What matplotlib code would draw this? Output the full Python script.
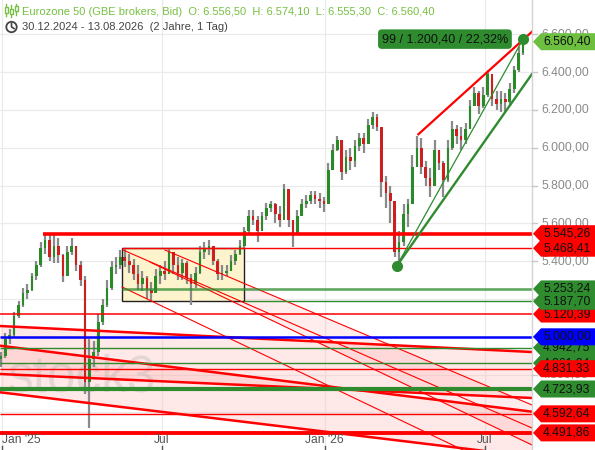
import matplotlib
matplotlib.use("Agg")
import matplotlib.pyplot as plt
import matplotlib.transforms as mtransforms
from matplotlib.patches import Polygon, Rectangle, Circle

plt.rcParams['font.family'] = ['Liberation Sans', 'DejaVu Sans']

# ---------------- data ----------------
# candle positions: days since 30.12.2024
days = list(range(1, 592, 5))
first_open = 4880
closes = [4900, 4990, 5010, 5110, 5170, 5230, 5250, 5320, 5380, 5470,
          5510, 5420, 5480, 5430, 5320, 5450, 5480, 5380, 5300, 4760,
          4880, 4920, 5080, 5170, 5260, 5370, 5380, 5420, 5400, 5380,
          5330, 5280, 5310, 5250, 5230, 5320, 5350, 5330, 5450, 5380,
          5340, 5390, 5310, 5280, 5340, 5450, 5470, 5480, 5400, 5330,
          5340, 5350, 5400, 5440, 5480, 5560, 5640, 5620, 5560, 5640,
          5680, 5700, 5650, 5620, 5780, 5620, 5540, 5640, 5700, 5720,
          5750, 5730, 5720, 5700, 5880, 5990, 6040, 5870, 5950, 5930,
          6010, 6050, 6020, 6120, 6160, 6110, 5820, 5760, 5720, 5450,
          5500, 5650, 5700, 5900, 6000, 5900, 5840, 5800, 5990, 5920,
          5830, 6000, 6100, 6060, 6040, 6100, 6220, 6290, 6220, 6280,
          6390, 6260, 6230, 6260, 6240, 6310, 6410, 6500, 6560.4]
highs = [4920, 5020, 5040, 5130, 5190, 5260, 5280, 5340, 5400, 5500,
         5550, 5540, 5540, 5520, 5440, 5480, 5520, 5480, 5400, 5320,
         4990, 4980, 5120, 5200, 5300, 5400, 5420, 5460, 5470, 5440,
         5410, 5380, 5350, 5320, 5290, 5360, 5380, 5400, 5470, 5450,
         5420, 5410, 5400, 5330, 5370, 5480, 5500, 5510, 5480, 5410,
         5380, 5380, 5430, 5460, 5510, 5580, 5670, 5670, 5640, 5660,
         5710, 5720, 5710, 5690, 5810, 5760, 5620, 5670, 5730, 5750,
         5770, 5770, 5760, 5740, 5920, 6020, 6060, 6040, 5990, 6000,
         6040, 6080, 6080, 6150, 6190, 6180, 6000, 5850, 5800, 5650,
         5560, 5700, 5730, 5960, 6060, 6050, 5930, 5890, 6040, 5990,
         5930, 6040, 6140, 6120, 6110, 6130, 6250, 6320, 6300, 6320,
         6410, 6370, 6300, 6300, 6290, 6340, 6430, 6530, 6574.1]
lows = [4840, 4890, 4960, 5000, 5100, 5160, 5200, 5240, 5300, 5370,
        5440, 5400, 5390, 5390, 5290, 5320, 5430, 5350, 5270, 4700,
        4520, 4840, 4900, 5060, 5160, 5250, 5330, 5360, 5370, 5340,
        5300, 5250, 5240, 5200, 5190, 5230, 5280, 5300, 5330, 5330,
        5300, 5300, 5280, 5170, 5260, 5330, 5410, 5430, 5380, 5300,
        5300, 5320, 5350, 5380, 5430, 5470, 5550, 5590, 5500, 5560,
        5620, 5660, 5600, 5580, 5690, 5580, 5475, 5560, 5640, 5680,
        5700, 5700, 5680, 5660, 5720, 5880, 5980, 5830, 5860, 5880,
        5900, 5980, 5970, 6020, 6100, 6090, 5740, 5680, 5600, 5420,
        5375, 5480, 5580, 5700, 5900, 5860, 5800, 5740, 5800, 5880,
        5740, 5820, 5990, 6020, 5990, 6020, 6100, 6220, 6180, 6210,
        6270, 6220, 6200, 6190, 6190, 6220, 6290, 6400, 6490]

# horizontal levels
h_levels = [5545.26, 5468.41, 5253.24, 5187.70, 5120.39, 5000.00,
            4942.75, 4861.04, 4831.33, 4723.93, 4592.64, 4491.86]
h_colors = ['red', 'red', 'green', 'green', 'red', 'blue',
            'green', 'green', 'red', 'green', 'red', 'red']
h_widths = [2.6, 1.0, 1.9, 1.0, 1.1, 1.8, 1.0, 1.0, 1.0, 3.0, 1.0, 2.8]
h_start = [48.6, 137.9, 137.9, 275.7, 0, 0, 0, 0, 0, 0, 0, 0]

# down-sloping channels: (day0, value0, day1, value1)
channel_lines = [(0, 5057.1, 601.1, 4919.6),   # A
                 (0, 4953.0, 601.1, 4604.0),   # B
                 (0, 4803.3, 601.1, 4676.4),   # C
                 (0, 4706.6, 601.1, 4366.0)]   # D
steep_lines = [(139.0, 5459.0, 601.1, 4517.8),
               (186.4, 5459.0, 601.1, 4639.4),
               (169.5, 5395.6, 601.1, 4427.9),
               (137.9, 5263.4, 601.1, 4226.9)]

# range box
box_days = (137.9, 275.7)
box_vals = (5187.70, 5468.41)

# rising trend lines
dot_start = (448.2, 5374.0)
dot_end = (591.0, 6574.1)
green_thick_end = (601.1, 6389.7)
red_rise = (472.7, 6070.9, 601.1, 6613.4)
measure_text = "99 / 1.200,40 / 22,32%"

# x ticks
tick_days = [2, 183, 367, 548]
tick_labels = ["Jan '25", "Jul", "Jan '26", "Jul"]
y_ticks = [4600, 4800, 5000, 5200, 5400, 5600, 5800, 6000, 6200, 6400, 6600]

# right labels (drawn in this order)
lab_vals = [4861.04, 5545.26, 5468.41, 5253.24, 5120.39, 5187.70, 4942.75,
            5000.00, 4831.33, 4723.93, 4592.64, 4491.86, 6560.40]
lab_cols = ['green', 'red', 'red', 'green', 'red', 'green', 'green',
            'blue', 'red', 'green', 'red', 'red', 'last']

header1 = "Eurozone 50 (GBE brokers, Bid)  O: 6.556,50  H: 6.574,10  L: 6.555,30  C: 6.560,40"
header2 = "30.12.2024 - 13.08.2026  (2 Jahre, 1 Tag)"

# ---------------- styling ----------------
COL = {'red': '#ff0000', 'green': '#2e8b2e', 'blue': '#0000ff', 'last': '#6dbf3f'}
UP, DOWN, WICK = '#2a8a2a', '#cc1f1f', '#8a8a8a'


def fmt(v):
    s = f"{v:,.2f}"
    return s.replace(',', 'X').replace('.', ',').replace('X', '.')


W, H = 595, 450
fig = plt.figure(figsize=(W / 100, H / 100), dpi=100)
ax = fig.add_axes([0, 0, 532 / W, 1])
ax.set_xlim(0, 601.1)
ax.set_ylim(4401.4, 6781.0)
for s in ax.spines.values():
    s.set_visible(False)
ax.set_xticks([])
ax.set_yticks([])

# grid
for v in y_ticks:
    ax.axhline(v, color='#ebebeb', lw=0.9, zorder=0)
for d in tick_days:
    ax.axvline(d, color='#ebebeb', lw=0.9, zorder=0)

# channels fill + lines
ax.fill_between([channel_lines[0][0], channel_lines[0][2]],
                [channel_lines[0][1], channel_lines[0][3]],
                [channel_lines[2][1], channel_lines[2][3]],
                color='#ff9a9a', alpha=0.22, lw=0, zorder=0.5)
ax.fill_between([channel_lines[1][0], channel_lines[1][2]],
                [channel_lines[1][1], channel_lines[1][3]],
                [channel_lines[3][1], channel_lines[3][3]],
                color='#ff9a9a', alpha=0.22, lw=0, zorder=0.5)
sb, sc = steep_lines[1], steep_lines[2]
k = (sc[3] - sc[1]) / (sc[2] - sc[0])
ax.fill_between([sb[0], sb[2]], [sb[1], sb[3]],
                [sc[1] + k * (sb[0] - sc[0]), sc[3]],
                color='#ff9a9a', alpha=0.18, lw=0, zorder=0.5)

for (d0, v0, d1, v1) in channel_lines:
    ax.plot([d0, d1], [v0, v1], color='#ff0000', lw=1.8, zorder=3,
            solid_capstyle='butt')
for (d0, v0, d1, v1) in steep_lines:
    ax.plot([d0, d1], [v0, v1], color='#ff0000', lw=0.8, zorder=3)

# box
ax.add_patch(Rectangle((box_days[0], box_vals[0]), box_days[1] - box_days[0],
                       box_vals[1] - box_vals[0], facecolor='#fdf3cc',
                       edgecolor='#222222', lw=1.0, zorder=1))

# watermark
ax.text(8, 4782, 'stock3', fontsize=37, color='#b5b5b5', alpha=0.35,
        va='center', ha='left', zorder=1.2)

# candles
opens = [first_open] + closes[:-1]
ax.vlines(days, lows, highs, color=WICK, lw=1.6, zorder=2)
bottoms, heights, cols = [], [], []
for o, c in zip(opens, closes):
    lo, hi = min(o, c), max(o, c)
    if hi - lo < 10:
        hi = lo + 10
    bottoms.append(lo)
    heights.append(hi - lo)
    cols.append(UP if c >= o else DOWN)
ax.bar(days, heights, bottom=bottoms, width=3.0, color=cols, lw=0, zorder=2.5)

# horizontal levels
for v, c, w, d0 in zip(h_levels, h_colors, h_widths, h_start):
    alpha = 0.75 if (c == 'green' and 1.5 < w < 2.5) else 1.0
    ax.plot([d0, 601.1], [v, v], color=COL[c], lw=w, alpha=alpha, zorder=3,
            solid_capstyle='butt')

# rising lines
ax.plot([red_rise[0], red_rise[2]], [red_rise[1], red_rise[3]],
        color='#ff0000', lw=1.6, zorder=3)
ax.plot([dot_start[0], green_thick_end[0]], [dot_start[1], green_thick_end[1]],
        color='#2e8b2e', lw=1.7, zorder=3)
ax.plot([dot_start[0], dot_end[0]], [dot_start[1], dot_end[1]],
        color='#2e8b2e', lw=0.9, zorder=3)
ax.plot([dot_start[0], dot_end[0]], [dot_start[1], dot_end[1]], 'o',
        color='#2e8b2e', ms=7, zorder=4)
ax.annotate(measure_text, xy=dot_end, xytext=(-15, 0),
            textcoords='offset pixels', ha='right', va='center',
            fontsize=9.0, color='#111111', zorder=5,
            bbox=dict(boxstyle='round,pad=0.3,rounding_size=0.3',
                      fc='#2e8b2e', ec='none'))

# x tick labels + marks
blend = mtransforms.blended_transform_factory(ax.transData, ax.transAxes)
for d, lab in zip(tick_days, tick_labels):
    ax.text(d + (0.8 if lab == "Jan '25" else 0), 10 / H, lab,
            transform=blend, ha='left' if lab == "Jan '25" else 'center',
            va='center', fontsize=8.7, color='#555555', zorder=6)
    ax.plot([d, d], [0, 4 / H], transform=blend, color='#555555', lw=1,
            zorder=6, clip_on=False)

# ---------------- overlay (pixel space) ----------------
fig.canvas.draw()
ov = fig.add_axes([0, 0, 1, 1], zorder=10)
ov.set_xlim(0, W)
ov.set_ylim(0, H)
ov.axis('off')


def ypx(v):
    return ax.transData.transform((0, v))[1]


ov.plot([532, 532], [0, H], color='#d4d4d4', lw=1, zorder=0.5)
for v in y_ticks:
    y = ypx(v)
    ov.plot([532, 537], [y, y], color='#c8c8c8', lw=1, zorder=0.5)
    ov.text(541, y, fmt(v), fontsize=8.7, color='#8a8a8a', va='center',
            ha='left', zorder=1)

HL = 8.5
for i, (v, c) in enumerate(zip(lab_vals, lab_cols)):
    y = ypx(v)
    z = 2 + i * 0.1
    ov.add_patch(Polygon([(533, y), (541, y + HL), (595, y + HL),
                          (595, y - HL), (541, y - HL)], closed=True,
                         fc=COL[c], ec='none', zorder=z))
    ov.text(543, y, fmt(v), fontsize=8.7, color='#111111', va='center',
            ha='left', zorder=z + 0.05)

# header
ov.text(22, H - 12, header1, fontsize=8.0, color='#77c043', va='center',
        ha='left', zorder=5)
ov.text(22, H - 27, header2, fontsize=8.0, color='#444444', va='center',
        ha='left', zorder=5)
# candle icon
for xi, (y0, y1, b0, b1) in zip([6, 11, 16], [(4, 16, 7, 13), (5, 17, 9, 14),
                                                (4, 15, 6, 11)]):
    ov.plot([xi, xi], [H - y0, H - y1], color='#77c043', lw=1, zorder=5)
    ov.add_patch(Rectangle((xi - 1.5, H - b1), 3, b1 - b0, fc='white',
                           ec='#77c043', lw=1, zorder=5.1))
# clock icon
ov.add_patch(Circle((11.5, H - 27), 5.2, fc='none', ec='#444444', lw=1.3,
                    zorder=5))
ov.plot([11.5, 11.5, 14], [H - 23.5, H - 27, H - 28.5], color='#444444',
        lw=1.2, zorder=5)

fig.savefig('out.png', dpi=100)
